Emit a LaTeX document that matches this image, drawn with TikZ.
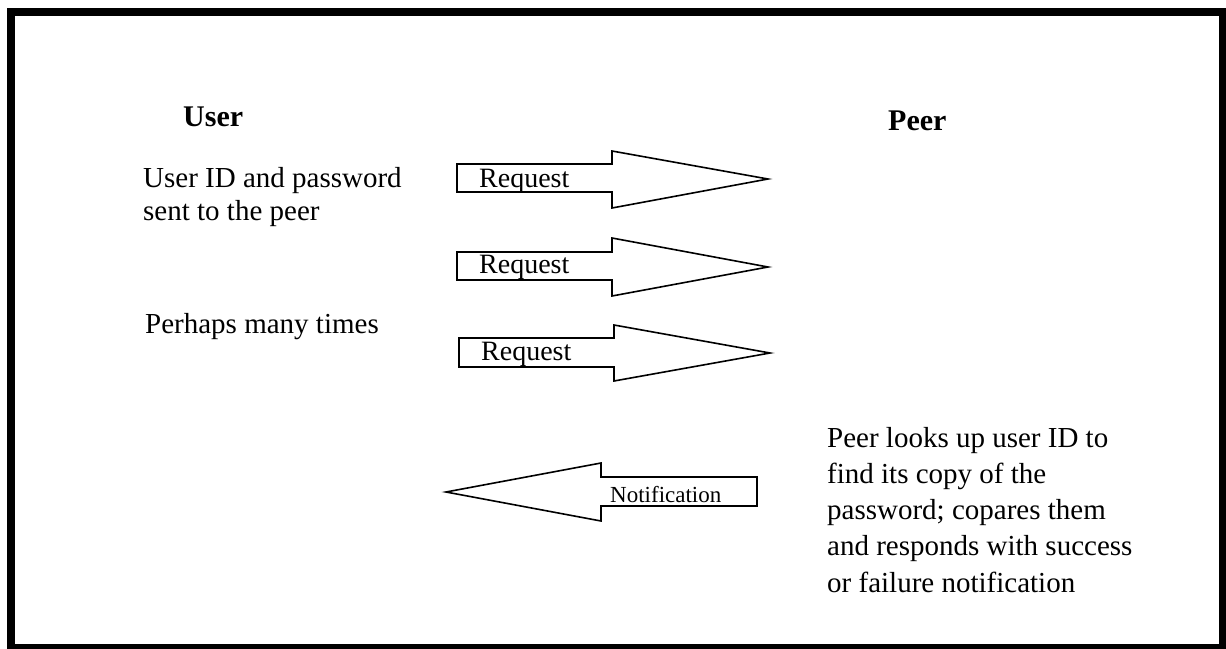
\documentclass[tikz,border=0pt]{standalone}
\usepackage{fontspec}
\setmainfont{Liberation Serif}
\begin{document}
\begin{tikzpicture}[x=1pt,y=-1pt]
\tikzset{
  txt/.style={anchor=base west, inner sep=0pt, font=\fontsize{29}{36}\selectfont},
  hd/.style={anchor=base west, inner sep=0pt, font=\fontsize{30}{36}\selectfont\bfseries},
  lbl/.style={anchor=base west, inner sep=0pt, font=\fontsize{28}{34}\selectfont},
  nlbl/.style={anchor=base west, inner sep=0pt, font=\fontsize{23}{28}\selectfont},
  bigarrow/.style={draw=black, line width=1.6pt, line join=miter, fill=white},
  frameline/.style={draw=black, line width=8pt}
}
\useasboundingbox (0,0) rectangle (1226,648);
\fill[white] (0,0) rectangle (1226,648);
\draw[frameline] (11,12) rectangle (1223,648);

% headings
\node[hd] (user) at (183,126) {User};
\node[hd] (peer) at (888,130) {Peer};

% user side text
\node[txt] (u1) at (143,187) {User ID and password};
\node[txt] (u2) at (143,220) {sent to the peer};
\node[txt] (u3) at (145,333) {Perhaps many times};

% peer side text
\node[txt] (p1) at (827,447) {Peer looks up user ID to};
\node[txt] (p2) at (827,483) {find its copy of the};
\node[txt] (p3) at (827,519) {password; copares them};
\node[txt] (p4) at (827,555) {and responds with success};
\node[txt] (p5) at (827,592) {or failure notification};

% request arrows
\draw[bigarrow] (457,164) -- (612,164) -- (612,151) -- (768,179) -- (612,208) -- (612,192) -- (457,192) -- cycle;
\node[lbl] (r1) at (479,187) {Request};

\draw[bigarrow] (457,252) -- (612,252) -- (612,238) -- (768,267) -- (612,296) -- (612,280) -- (457,280) -- cycle;
\node[lbl] (r2) at (479,273) {Request};

\draw[bigarrow] (459,338) -- (614,338) -- (614,325) -- (770,353) -- (614,381) -- (614,367) -- (459,367) -- cycle;
\node[lbl] (r3) at (481,360) {Request};

% notification arrow
\draw[bigarrow] (757,477) -- (601,477) -- (601,463) -- (446,492) -- (601,521) -- (601,506) -- (757,506) -- cycle;
\node[nlbl] (n1) at (610,502) {Notification};
\end{tikzpicture}
\end{document}
